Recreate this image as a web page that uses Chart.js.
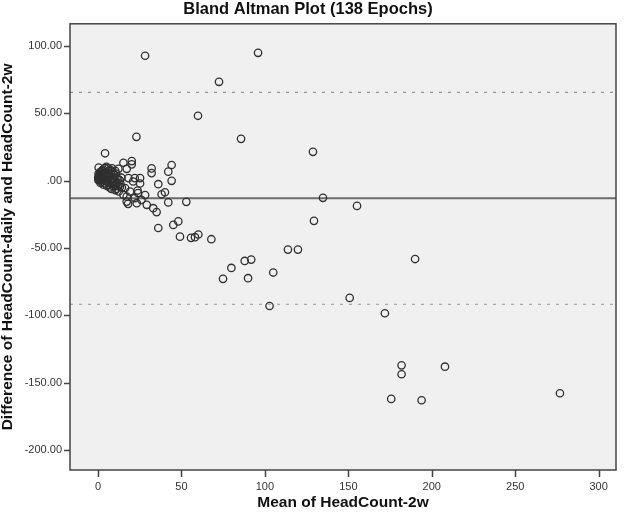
<!DOCTYPE html>
<html>
<head>
<meta charset="utf-8">
<script src="https://cdn.jsdelivr.net/npm/chart.js@4/dist/chart.umd.min.js"></script>
<style>
  html, body { margin: 0; padding: 0; background: #fff; }
  #wrap { width: 628px; height: 513px; }
</style>
</head>
<body>
<div id="wrap"><canvas id="c" width="628" height="513"></canvas></div>
<script>
// data
const meanVals = [
  28.2, 95.9, 72.5, 59.9, 85.7, 128.8, 134.8, 155.2, 129.4, 190.0,
  113.8, 119.8, 87.9, 91.8, 79.9, 105.0, 74.9, 89.9, 52.9, 49.1,
  55.7, 58.1, 60.1, 67.9, 102.8, 150.8, 171.9, 181.9, 181.9, 207.9,
  175.7, 193.9, 276.8, 23.0, 4.2, 0.4, 15.2, 20.2, 20.2, 32.1,
  32.1, 44.1, 42.1, 44.1, 36.1, 22.0, 21.0, 25.2, 28.2, 38.1,
  40.1, 42.1, 29.2, 33.1, 35.1, 36.1, 45.1, 48.1, 17.2, 23.2,
  15.2, 17.2, 18.2, 25.2, 13.2, 16.2, 19.2, 22.0, 24.0, 26.0,
  12.2, 17.2, 18.0, 23.7,
  // dense cluster near zero
  0.2, 0.5, 0.1, 0.6, 0.3,
  1.1, 1.4, 0.9, 1.2, 1.5,
  2.3, 2.0, 1.8, 2.4, 2.1,
  3.2, 2.9, 3.4, 3.0, 3.3,
  4.1, 3.8, 4.4, 4.0, 4.3,
  5.2, 4.9, 5.3, 5.0, 5.4,
  6.1, 5.8, 6.3, 6.0, 6.4,
  7.2, 6.9, 7.3, 7.0,
  8.1, 7.8, 8.4, 8.2, 8.0,
  9.1, 8.8, 9.3, 9.0,
  10.2, 9.9, 10.3, 10.0, 10.4,
  11.1, 10.8, 11.3, 11.0,
  12.1, 11.8, 12.4,
  13.1, 13.4,
  14.0, 14.3
];
const diffVals = [
  92.5, 94.7, 73.2, 48.0, 30.9, 21.3, -12.8, -18.8, -29.9, -58.2,
  -51.2, -51.2, -59.6, -58.6, -64.8, -68.2, -72.9, -72.4, -15.8, -41.6,
  -42.5, -42.0, -40.0, -43.5, -93.0, -87.0, -98.4, -137.0, -143.6, -138.0,
  -161.9, -162.9, -157.7, 32.4, 20.2, 9.6, 13.2, 14.4, 12.0, 9.0,
  5.5, 11.5, 6.6, -0.2, -2.7, 1.8, -0.7, -2.2, -10.8, -10.2,
  -8.7, -16.2, -18.0, -20.5, -23.4, -35.2, -32.9, -30.3, -15.6, -16.8,
  -10.6, -11.9, 1.8, 1.8, -4.5, -5.6, -8.2, -13.0, -9.3, -14.3,
  8.7, 8.7, -17.3, -7.4,
  0.3, 1.2, 2.1, 3.4, 5.0,
  0.1, 2.3, 4.1, 6.2, -1.8,
  1.0, 3.2, 5.1, 7.3, -0.9,
  0.2, 2.0, 4.3, 8.1, -3.1,
  1.1, 3.3, 6.0, 9.2, -2.2,
  0.0, 2.4, 5.2, 10.1, -4.0,
  -1.1, 3.0, 7.1, 9.0, -3.2,
  0.1, 4.2, 8.0, -5.1,
  1.2, 5.0, 9.1, -2.0, -6.2,
  2.1, 6.1, -1.2, -4.1,
  0.0, 4.1, 7.2, -3.0, -7.1,
  2.0, 5.2, -2.1, -6.0,
  1.1, -4.2, -8.1,
  0.2, -2.3,
  2.1, -5.2
];
const meanDiff = -13.2;
const upperLoA = 65.3;
const lowerLoA = -91.7;
const xTicks = [0, 50, 100, 150, 200, 250, 300];
const yTicks = [100, 50, 0, -50, -100, -150, -200];
const xMin = -16.8, xMax = 310.4;
const yMin = -214.6, yMax = 116.2;

const points = meanVals.map((x, i) => ({x: x, y: diffVals[i]}));

function hline(v) {
  return [{x: xMin, y: v}, {x: xMax, y: v}];
}

function yLabel(v) {
  if (v === 0) return '.00';
  return v.toFixed(2);
}

// grey panel, frame and outside tick marks
const plotBox = {
  id: 'plotBox',
  beforeDraw(chart) {
    const a = chart.chartArea, ctx = chart.ctx;
    ctx.save();
    ctx.fillStyle = '#f0f0f0';
    ctx.fillRect(a.left, a.top, a.right - a.left, a.bottom - a.top);
    ctx.restore();
  },
  afterDraw(chart) {
    const a = chart.chartArea, ctx = chart.ctx;
    const sx = chart.scales.x, sy = chart.scales.y;
    ctx.save();
    ctx.strokeStyle = '#444';
    ctx.lineWidth = 1.5;
    ctx.strokeRect(a.left, a.top, a.right - a.left, a.bottom - a.top);
    ctx.beginPath();
    xTicks.forEach(v => {
      const px = Math.round(sx.getPixelForValue(v)) + 0.5;
      ctx.moveTo(px, a.bottom);
      ctx.lineTo(px, a.bottom + 7);
    });
    yTicks.forEach(v => {
      const py = Math.round(sy.getPixelForValue(v)) + 0.5;
      ctx.moveTo(a.left, py);
      ctx.lineTo(a.left - 6, py);
    });
    ctx.stroke();
    ctx.restore();
  }
};

const tickFont = {family: 'Liberation Sans, Arial, sans-serif', size: 11};
const titleFont = {family: 'Liberation Sans, Arial, sans-serif', size: 15.5, weight: 'bold'};

new Chart(document.getElementById('c'), {
  type: 'scatter',
  data: {
    datasets: [
      {
        label: 'upper',
        type: 'line',
        data: hline(upperLoA),
        borderColor: '#939393',
        borderWidth: 1.2,
        borderDash: [3, 6],
        pointRadius: 0,
        order: 3
      },
      {
        label: 'lower',
        type: 'line',
        data: hline(lowerLoA),
        borderColor: '#939393',
        borderWidth: 1.2,
        borderDash: [3, 6],
        pointRadius: 0,
        order: 3
      },
      {
        label: 'mean',
        type: 'line',
        data: hline(meanDiff),
        borderColor: '#6b6b6b',
        borderWidth: 2,
        pointRadius: 0,
        order: 2
      },
      {
        label: 'epochs',
        data: points,
        pointRadius: 3.7,
        pointBorderWidth: 1.3,
        borderColor: '#303030',
        backgroundColor: 'rgba(0,0,0,0)',
        order: 1
      }
    ]
  },
  options: {
    responsive: false,
    animation: false,
    layout: {padding: {left: 0, right: 12, top: 0, bottom: 0}},
    scales: {
      x: {
        type: 'linear',
        min: xMin,
        max: xMax,
        afterBuildTicks: (s) => { s.ticks = xTicks.map(v => ({value: v})); },
        afterFit: (s) => { s.height = 43; },
        grid: {display: true, drawOnChartArea: false, drawTicks: true, tickLength: 7, color: 'rgba(0,0,0,0)'},
        border: {display: false},
        ticks: {font: tickFont, color: '#333', padding: 3, maxRotation: 0},
        title: {display: true, text: 'Mean of HeadCount-2w', font: titleFont, color: '#111', padding: {top: 0, bottom: 1}}
      },
      y: {
        type: 'linear',
        min: yMin,
        max: yMax,
        afterBuildTicks: (s) => { s.ticks = yTicks.map(v => ({value: v})); },
        afterFit: (s) => { s.width = 70; },
        grid: {display: true, drawOnChartArea: false, drawTicks: true, tickLength: 6, color: 'rgba(0,0,0,0)'},
        border: {display: false},
        ticks: {font: tickFont, color: '#333', padding: 2, callback: (v) => yLabel(v)},
        title: {display: true, text: 'Difference of HeadCount-daily and HeadCount-2w', font: titleFont, color: '#111', padding: {top: -2, bottom: 0}}
      }
    },
    plugins: {
      legend: {display: false},
      tooltip: {enabled: false},
      title: {
        display: true,
        text: 'Bland Altman Plot (138 Epochs)',
        font: {family: 'Liberation Sans, Arial, sans-serif', size: 16.5, weight: 'bold'},
        color: '#111',
        padding: {top: 0, bottom: 4}
      }
    }
  },
  plugins: [plotBox]
});
</script>
</body>
</html>
